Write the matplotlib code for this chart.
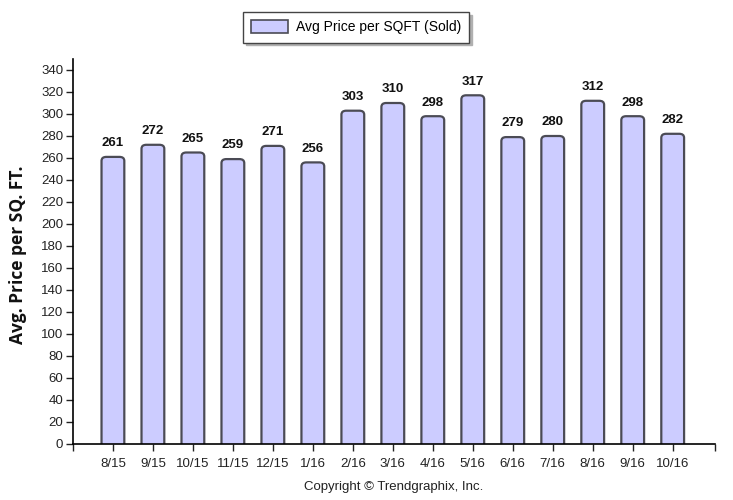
import matplotlib
matplotlib.use("Agg")
import matplotlib.pyplot as plt
from matplotlib.patches import FancyBboxPatch, Patch

months = ["8/15", "9/15", "10/15", "11/15", "12/15", "1/16", "2/16", "3/16",
          "4/16", "5/16", "6/16", "7/16", "8/16", "9/16", "10/16"]
price_sqft = [261, 272, 265, 259, 271, 256, 303, 310, 298, 317, 279, 280, 312, 298, 282]

fill = "#ccccff"
edge = "#4b4b55"

fig = plt.figure(figsize=(7.33, 5), dpi=100)
ax = fig.add_axes([0.0995, 0.112, 0.8755, 0.770])

width = 0.57
for i, v in enumerate(price_sqft):
    # rounded-top bar; bottom is extended below zero and clipped by the axes
    p = FancyBboxPatch((i - width / 2, -6), width, v + 6,
                       boxstyle="round,pad=0,rounding_size=0.12",
                       mutation_aspect=30,
                       facecolor=fill, edgecolor=edge, linewidth=1.6)
    ax.add_patch(p)
    ax.text(i, v + 7, str(v), ha="center", va="bottom",
            fontsize=9.5, fontweight="bold", family="Liberation Sans", color="#111111")

ax.set_xlim(-1, 15.05)
ax.set_ylim(0, 350)
ax.set_yticks(range(0, 341, 20))
ax.set_xticks([-1] + list(range(len(months))) + [15.05])
ax.set_xticklabels([""] + months + [""])
ax.tick_params(axis="both", labelsize=9.5, length=5, width=1, color="#222222")
for lab in ax.get_xticklabels() + ax.get_yticklabels():
    lab.set_family("Liberation Sans")
    lab.set_color("#222222")
ax.tick_params(axis="x", pad=5)
ax.tick_params(axis="y", pad=2)

ax.spines["top"].set_visible(False)
ax.spines["right"].set_visible(False)
ax.spines["left"].set_linewidth(1.2)
ax.spines["bottom"].set_linewidth(1.2)

fig.text(0.025, 0.49, "Avg. Price per SQ. FT.", rotation=90, ha="center", va="center",
         fontsize=12.5, fontweight="bold", family="Open Sans", color="#111111")

fig.text(0.537, 0.026, "Copyright \u00a9 Trendgraphix, Inc.", ha="center", va="center",
         fontsize=9.5, family="Liberation Sans", color="#222222")

handle = Patch(facecolor=fill, edgecolor=edge, linewidth=1.2)
leg = fig.legend([handle], ["Avg Price per SQFT (Sold)"], loc="upper center",
                 bbox_to_anchor=(0.486, 0.976), frameon=True, fancybox=False,
                 shadow={"color": "#b0b0b0", "alpha": 1.0}, prop={"family": "Liberation Sans", "size": 10},
                 handlelength=2.6, handleheight=1.0, handletextpad=0.6,
                 borderpad=0.6, borderaxespad=0)
leg.get_frame().set_edgecolor("#444444")
leg.get_frame().set_linewidth(1.0)

fig.savefig("out.png", dpi=100)
